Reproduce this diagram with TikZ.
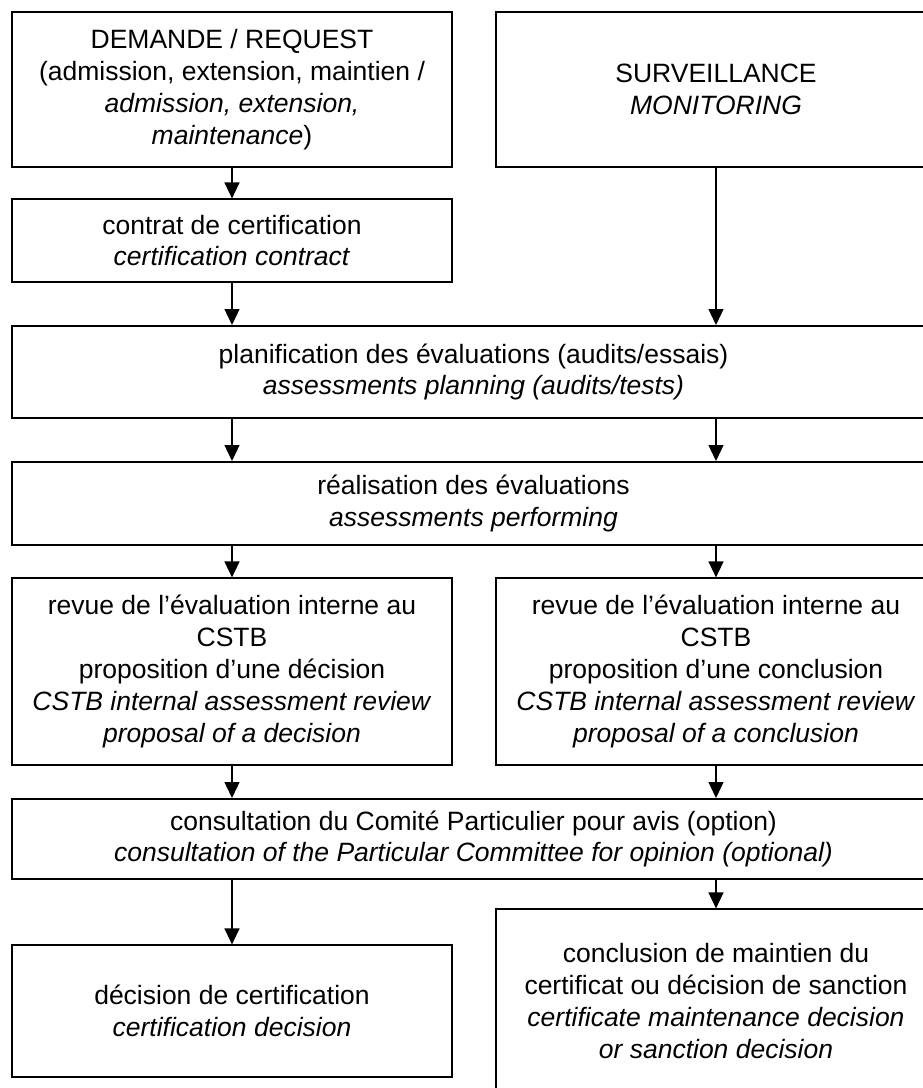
\documentclass[tikz,border=0pt]{standalone}
\usepackage{fontspec}
\setmainfont{Liberation Sans}
\usetikzlibrary{arrows.meta}
\tikzset{
  x=1pt, y=-1pt,
  box/.style={draw=black, line width=1.2pt, inner sep=0pt, align=center,
    text=black, font=\fontsize{26.5}{31.8}\selectfont},
  boldbox/.style={box, line width=2pt},
  arr/.style={-{Triangle[length=16pt,width=15pt]}, line width=1.3pt},
}
\begin{document}
\begin{tikzpicture}
\useasboundingbox (0,0) rectangle (923,1088);
\clip (0,0) rectangle (923,1088);
\fill[white] (0,0) rectangle (923,1088);

\node[boldbox, minimum width=440pt, minimum height=155pt] (A) at (232,89.5)
  {DEMANDE / REQUEST\\(admission, extension, maintien /\\\textit{admission, extension,}\\\textit{maintenance})};
\node[boldbox, minimum width=440pt, minimum height=155pt] (B) at (716,89.5)
  {SURVEILLANCE\\\textit{MONITORING}};
\node[box, minimum width=440pt, minimum height=83pt] (C) at (232,240.5)
  {contrat de certification\\\textit{certification contract}};
\node[boldbox, minimum width=923pt, minimum height=92pt] (D) at (473.5,372)
  {planification des évaluations (audits/essais)\\\textit{assessments planning (audits/tests)}};
\node[boldbox, minimum width=923pt, minimum height=83pt] (E) at (473.5,503.5)
  {réalisation des évaluations\\\textit{assessments performing}};
\node[box, minimum width=440pt, minimum height=187pt] (F) at (232,671.5)
  {revue de l’évaluation interne au\\CSTB\\proposition d’une décision\\\textit{CSTB internal assessment review}\\\textit{proposal of a decision}};
\node[box, minimum width=440pt, minimum height=187pt] (G) at (716,671.5)
  {revue de l’évaluation interne au\\CSTB\\proposition d’une conclusion\\\textit{CSTB internal assessment review}\\\textit{proposal of a conclusion}};
\node[boldbox, minimum width=923pt, minimum height=80pt] (H) at (473.5,839)
  {consultation du Comité Particulier pour avis (option)\\\textit{consultation of the Particular Committee for opinion (optional)}};
\node[box, minimum width=440pt, minimum height=132pt] (I) at (232,1011)
  {décision de certification\\\textit{certification decision}};
\node[box, minimum width=440pt, minimum height=184pt] (J) at (716,1001)
  {conclusion de maintien du\\certificat ou décision de sanction\\\textit{certificate maintenance decision}\\\textit{or sanction decision}};

\draw[arr] (A.south) -- (C.north);
\draw[arr] (B.south) -- (B.south |- D.north);
\draw[arr] (C.south) -- (C.south |- D.north);
\draw[arr] (D.south -| A.south) -- (E.north -| A.south);
\draw[arr] (D.south -| B.south) -- (E.north -| B.south);
\draw[arr] (E.south -| F.north) -- (F.north);
\draw[arr] (E.south -| G.north) -- (G.north);
\draw[arr] (F.south) -- (F.south |- H.north);
\draw[arr] (G.south) -- (G.south |- H.north);
\draw[arr] (H.south -| I.north) -- (I.north);
\draw[arr] (H.south -| J.north) -- (J.north);
\end{tikzpicture}
\end{document}
